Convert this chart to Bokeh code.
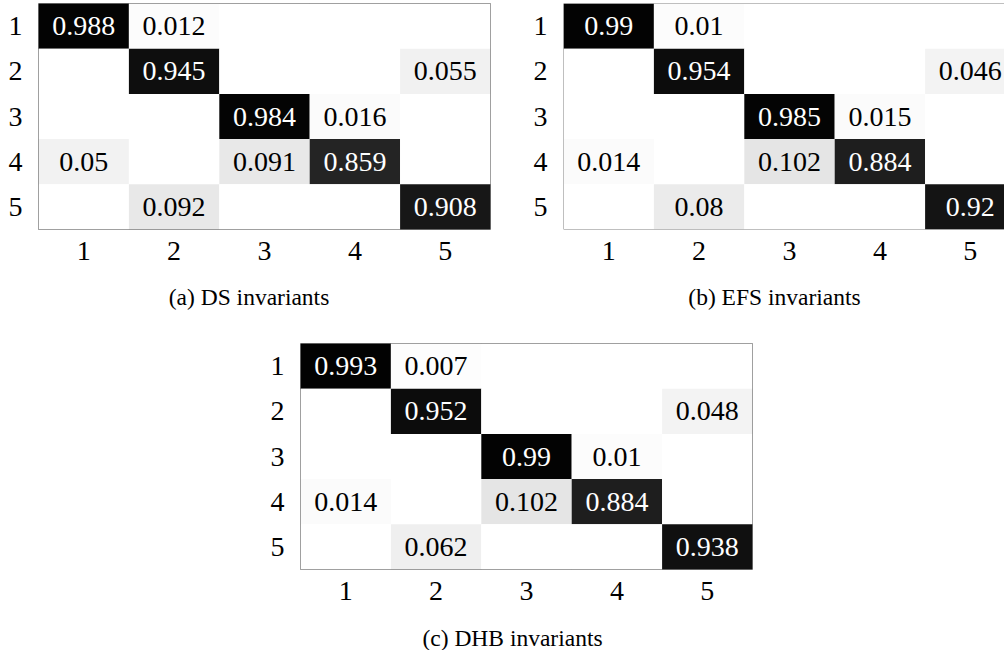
from bokeh.plotting import figure
from bokeh.models import Range1d, FixedTicker, Label, Span, Spacer, ColumnDataSource
from bokeh.layouts import column, row
from bokeh.embed import file_html
from bokeh.resources import INLINE
from bokeh.core.properties import value

# Class indices (rows = true class, columns = predicted class)
classes = [1, 2, 3, 4, 5]

ds_invariants = [
    [0.988, 0.012, 0.0, 0.0, 0.0],
    [0.0, 0.945, 0.0, 0.0, 0.055],
    [0.0, 0.0, 0.984, 0.016, 0.0],
    [0.05, 0.0, 0.091, 0.859, 0.0],
    [0.0, 0.092, 0.0, 0.0, 0.908],
]

efs_invariants = [
    [0.99, 0.01, 0.0, 0.0, 0.0],
    [0.0, 0.954, 0.0, 0.0, 0.046],
    [0.0, 0.0, 0.985, 0.015, 0.0],
    [0.014, 0.0, 0.102, 0.884, 0.0],
    [0.0, 0.08, 0.0, 0.0, 0.92],
]

dhb_invariants = [
    [0.993, 0.007, 0.0, 0.0, 0.0],
    [0.0, 0.952, 0.0, 0.0, 0.048],
    [0.0, 0.0, 0.99, 0.01, 0.0],
    [0.014, 0.0, 0.102, 0.884, 0.0],
    [0.0, 0.062, 0.0, 0.0, 0.938],
]

captions = ["(a) DS invariants", "(b) EFS invariants", "(c) DHB invariants"]

SERIF = "Liberation Serif"
CELL_W = 90.4       # pixels per class column
BORDER = "#808080"


def grey(v):
    g = int(round(255 * (1 - v)))
    return "#%02x%02x%02x" % (g, g, g)


def matrix_panel(mat, width, height, left, right, top, bottom, outline=True):
    frame_w = width - left - right
    x_end = 0.5 + frame_w / CELL_W
    p = figure(width=width, height=height,
               x_range=Range1d(0.5, x_end), y_range=Range1d(5.5, 0.5),
               output_backend="svg", toolbar_location=None,
               min_border_left=left, min_border_right=right,
               min_border_top=top, min_border_bottom=bottom)
    p.background_fill_color = "white"
    p.border_fill_color = "white"
    p.grid.visible = False
    p.outline_line_color = BORDER if outline else None
    p.outline_line_width = 1

    xs, ys, cols, txt, tcol = [], [], [], [], []
    for i, r in enumerate(classes):
        for j, c in enumerate(classes):
            v = mat[i][j]
            xs.append(c)
            ys.append(r)
            cols.append(grey(v))
            txt.append(f"{v:g}" if v > 0 else "")
            tcol.append("white" if v > 0.5 else "black")
    src = ColumnDataSource(dict(x=xs, y=ys, color=cols, label=txt, tc=tcol))

    p.rect(x="x", y="y", width=1, height=1, source=src,
           fill_color="color", line_color=None)
    p.text(x="x", y="y", text="label", source=src, text_color="tc",
           text_font=value(SERIF), text_font_size="28px",
           text_align="center", text_baseline="middle")

    for ax in (p.xaxis[0], p.yaxis[0]):
        ax.ticker = FixedTicker(ticks=classes)
        ax.major_tick_line_color = None
        ax.minor_tick_line_color = None
        ax.axis_line_color = None
        ax.major_label_text_font = SERIF
        ax.major_label_text_font_size = "28px"
        ax.major_label_text_color = "black"
    p.xaxis.major_label_standoff = 6
    p.yaxis.major_label_standoff = 10

    if not outline:
        # open on the right: only top, left and bottom edges
        p.add_layout(Span(location=0.5, dimension="width", line_color=BORDER, line_width=1))
        p.add_layout(Span(location=5.5, dimension="width", line_color=BORDER, line_width=1))
        p.add_layout(Span(location=0.5, dimension="height", line_color=BORDER, line_width=1))
    return p


def caption_strip(text, width, height, centre_from_top):
    """Sub-figure caption, centred horizontally in its own strip."""
    p = figure(width=width, height=height, x_range=Range1d(0, 1),
               y_range=Range1d(0, height), x_axis_type=None, y_axis_type=None,
               output_backend="svg", toolbar_location=None, min_border=0)
    p.grid.visible = False
    p.outline_line_color = None
    p.background_fill_color = "white"
    p.border_fill_color = "white"
    p.add_layout(Label(x=0.5, y=height - centre_from_top, text=text,
                       text_align="center", text_baseline="middle",
                       text_font=SERIF, text_font_size="23.5px", text_color="black"))
    return p


pa = matrix_panel(ds_invariants, 500, 270, 38, 10, 3, 41)
pb = matrix_panel(efs_invariants, 504, 270, 63, 0, 3, 41, outline=False)
pc = matrix_panel(dhb_invariants, 764, 290, 60, 252, 23, 41)

cap_a = caption_strip(captions[0], 497, 50, 26)
cap_b = caption_strip(captions[1], 460, 50, 26)
cap_c = caption_strip(captions[2], 544, 40, 27)

layout = column(
    row(pa, pb),
    row(cap_a, Spacer(width=47, height=50), cap_b),
    row(Spacer(width=240, height=290), pc),
    row(Spacer(width=240, height=40), cap_c),
)

open("out.html", "w").write(file_html(layout, INLINE))
